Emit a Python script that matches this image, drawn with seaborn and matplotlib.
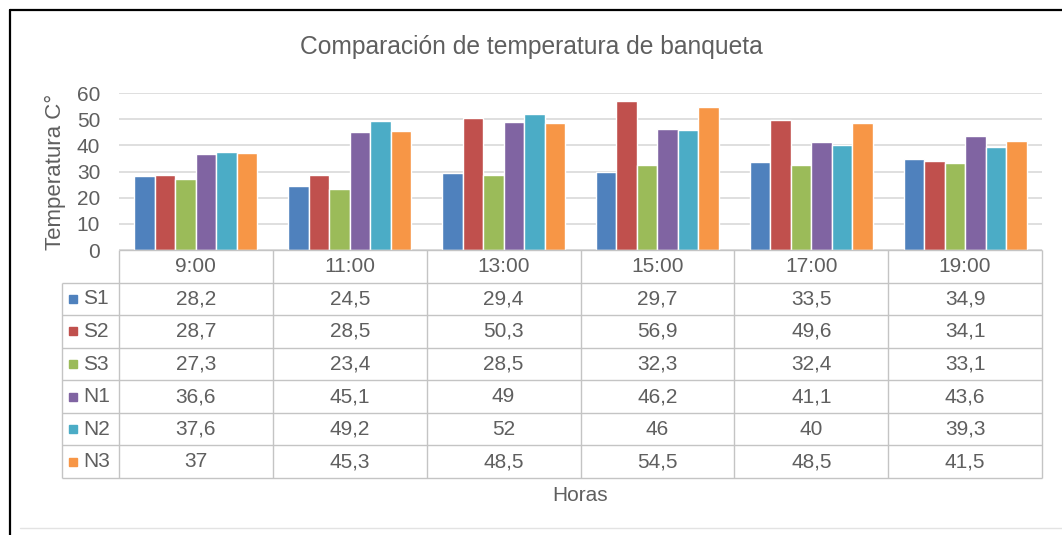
# =========================================
# IMPORT LIBRARIES
# =========================================

import numpy as np
import pandas as pd
import matplotlib
matplotlib.use("Agg")
import matplotlib.pyplot as plt
from matplotlib.lines import Line2D
import seaborn as sns

# =========================================
# DATA
# =========================================

horas = ["9:00", "11:00", "13:00", "15:00", "17:00", "19:00"]
series = ["S1", "S2", "S3", "N1", "N2", "N3"]

s1 = [28.2, 24.5, 29.4, 29.7, 33.5, 34.9]
s2 = [28.7, 28.5, 50.3, 56.9, 49.6, 34.1]
s3 = [27.3, 23.4, 28.5, 32.3, 32.4, 33.1]
n1 = [36.6, 45.1, 49, 46.2, 41.1, 43.6]
n2 = [37.6, 49.2, 52, 46, 40, 39.3]
n3 = [37, 45.3, 48.5, 54.5, 48.5, 41.5]

colores = ["#4F81BD", "#C0504D", "#9BBB59", "#8064A2", "#4BACC6", "#F79646"]

valores = [s1, s2, s3, n1, n2, n3]

df = pd.DataFrame({
    "Hora": np.tile(horas, len(series)),
    "Serie": np.repeat(series, len(horas)),
    "Temperatura": np.concatenate(valores),
})

# =========================================
# FIGURE SETUP
# =========================================

sns.set_theme(style="white")
plt.rcParams["font.family"] = ["Liberation Sans", "DejaVu Sans"]

gris = "#5f5f5f"
linea = "#c4c4c4"
fs = 15

W, H = 1062, 535
fig = plt.figure(figsize=(W / 100, H / 100), dpi=100)


def caja(x0, y0, x1, y1):
    # pixel box (top-left origin) -> figure rect
    return [x0 / W, 1 - y1 / H, (x1 - x0) / W, (y1 - y0) / H]


# =========================================
# BAR CHART
# =========================================

ax = fig.add_axes(caja(119, 93, 1042, 250))

sns.barplot(
    data=df, x="Hora", y="Temperatura", hue="Serie",
    order=horas, hue_order=series, palette=colores,
    saturation=1, width=0.8, legend=False, ax=ax
)

ax.set_ylim(0, 60)
ax.set_yticks(range(0, 61, 10))
ax.set_xlim(-0.5, len(horas) - 0.5)
ax.grid(axis="y", color="#d9d9d9", linewidth=1.2)
ax.set_axisbelow(True)
sns.despine(ax=ax, left=True, bottom=True)
ax.tick_params(axis="y", length=0, pad=13.5, labelsize=fs, labelcolor=gris)
ax.tick_params(axis="x", length=0, labelbottom=False)

ax.set_ylabel("Temperatura C°", fontsize=16, color=gris)
ax.yaxis.set_label_coords(-64 / 923, 0.5)
ax.yaxis.label.set_va("center")

ax.set_xlabel("Horas", fontsize=fs, color=gris)
ax.xaxis.set_label_coords(0.5, -(496 - 250) / 157)
ax.xaxis.label.set_va("center")

# =========================================
# DATA TABLE
# =========================================

n_col = len(horas)
n_fil = len(series)
ancho_etiqueta = 57 / (923 / n_col)
izq = -0.5 - ancho_etiqueta

tax = fig.add_axes(caja(62, 250, 1042, 478))
tax.set_xlim(izq, n_col - 0.5)
tax.set_ylim(n_fil + 1, 0)
tax.axis("off")

tax.hlines(0, -0.5, n_col - 0.5, color=linea, lw=1, clip_on=False)
tax.hlines(np.arange(1, n_fil + 2), izq, n_col - 0.5, color=linea, lw=1, clip_on=False)
tax.vlines(izq, 1, n_fil + 1, color=linea, lw=1, clip_on=False)
tax.vlines(np.arange(n_col + 1) - 0.5, 0, n_fil + 1, color=linea, lw=1, clip_on=False)

for i, h in enumerate(horas):
    tax.text(i, 0.5, h, ha="center", va="center", fontsize=fs, color=gris)

for j, (nombre, fila, color) in enumerate(zip(series, valores, colores)):
    tax.plot(izq + 0.072, j + 1.5, marker="s", ms=6, color=color, clip_on=False)
    tax.text(izq + 0.135, j + 1.5, nombre, ha="left", va="center", fontsize=fs, color=gris)
    for i, v in enumerate(fila):
        texto = f"{v:g}".replace(".", ",")
        tax.text(i, j + 1.5, texto, ha="center", va="center", fontsize=fs, color=gris)

# =========================================
# TITLE AND FRAME
# =========================================

fig.text(0.5, 1 - 47 / H, "Comparación de temperatura de banqueta",
         ha="center", va="center", fontsize=17.7, color=gris)

fig.add_artist(Line2D([10 / W, 1], [1 - 10 / H, 1 - 10 / H], color="black", lw=1.6))
fig.add_artist(Line2D([10 / W, 10 / W], [0, 1 - 10 / H], color="black", lw=1.6))
fig.add_artist(Line2D([20 / W, 1], [1 - 528 / H, 1 - 528 / H], color="#e3e3e3", lw=1))

fig.savefig("out.png", dpi=100)
